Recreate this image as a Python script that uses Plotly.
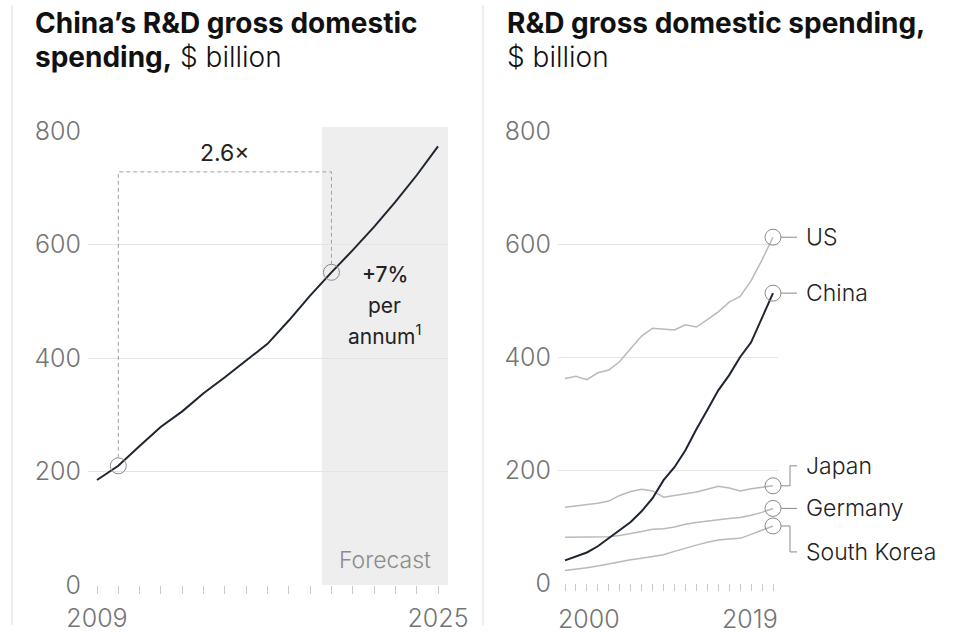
import plotly.graph_objects as go

W, H = 957, 634

# ---- Left panel: China's R&D spending, $ billion (2021-2025 forecast) ----
cn_years = list(range(2009, 2026))
cn_values = [185, 210, 245, 279, 306, 338, 366, 396, 425, 466, 510, 551,
             590, 631, 675, 722, 773]
forecast_start = 2019.55
base_year, mark_year = 2010, 2020
left_ticks = [0, 200, 400, 600, 800]

# ---- Right panel: R&D gross domestic spending by country, $ billion ----
years = list(range(2000, 2020))
us = [362, 366, 360, 372, 377, 392, 415, 437, 451, 449, 448, 457, 453, 466,
      480, 497, 507, 535, 572, 612]
china = [40, 47, 54, 65, 79, 93, 108, 127, 150, 182, 205, 235, 272, 306,
         341, 368, 400, 426, 470, 513]
japan = [134, 136, 139, 141, 145, 155, 162, 166, 163, 152, 155, 158, 161,
         166, 171, 168, 163, 167, 170, 172]
germany = [81, 81, 82, 82, 82, 84, 87, 91, 95, 96, 99, 104, 107, 110, 112,
           114, 116, 120, 125, 132]
korea = [22, 24, 27, 30, 34, 38, 41, 44, 47, 50, 56, 62, 67, 72, 76, 78, 79,
         86, 93, 101]
right_ticks = [0, 200, 400, 600, 800]

FONT = "Inter, Arial, sans-serif"
DARK = "#1e2430"
GREY_LINE = "#b9b9b9"
CIRCLE = "#8a8a8a"
TICK_GREY = "#747474"

# Plot-area geometry (pixels)
L_X0, L_X1, L_Y0, L_Y1 = 88, 448, 585, 131
R_X0, R_X1, R_Y0, R_Y1 = 558, 778, 583, 131
L_RANGE_X = [cn_years[0] - 9 / 21.31, cn_years[-1] + 10 / 21.31]
R_RANGE_X = [years[0] - 7 / 10.947, years[-1] + 5 / 10.947]
Y_RANGE = [0, 800]


def px(x):
    return x / W


def py(y):
    return 1 - y / H


# conversions for the right panel (data -> paper)
def r_xpaper(xv):
    frac = (xv - R_RANGE_X[0]) / (R_RANGE_X[1] - R_RANGE_X[0])
    return px(R_X0 + frac * (R_X1 - R_X0))


def r_ypaper(yv):
    frac = (yv - Y_RANGE[0]) / (Y_RANGE[1] - Y_RANGE[0])
    return py(R_Y0 - frac * (R_Y0 - R_Y1))


l_dy = (Y_RANGE[1] - Y_RANGE[0]) / (L_Y0 - L_Y1)

fig = go.Figure()

# Left panel line + highlighted points
fig.add_trace(go.Scatter(x=cn_years, y=cn_values, mode="lines",
                         line=dict(color=DARK, width=2),
                         xaxis="x", yaxis="y", hoverinfo="skip"))
v_base = cn_values[cn_years.index(base_year)]
v_mark = cn_values[cn_years.index(mark_year)]
fig.add_trace(go.Scatter(x=[base_year, mark_year], y=[v_base, v_mark],
                         mode="markers", cliponaxis=False,
                         marker=dict(symbol="circle-open", size=16,
                                     color=CIRCLE, line=dict(width=1)),
                         xaxis="x", yaxis="y", hoverinfo="skip"))

# Right panel lines
series = [("US", us, GREY_LINE), ("Japan", japan, GREY_LINE),
          ("Germany", germany, GREY_LINE), ("South Korea", korea, GREY_LINE),
          ("China", china, DARK)]
for name, vals, col in series:
    fig.add_trace(go.Scatter(x=years, y=vals, mode="lines",
                             line=dict(color=col, width=2 if col == DARK else 1.5),
                             xaxis="x2", yaxis="y2", hoverinfo="skip"))
fig.add_trace(go.Scatter(x=[years[-1]] * len(series),
                         y=[s[1][-1] for s in series],
                         mode="markers", cliponaxis=False,
                         marker=dict(symbol="circle-open", size=16,
                                     color=CIRCLE, line=dict(width=1)),
                         xaxis="x2", yaxis="y2", hoverinfo="skip"))

shapes = []
annotations = []

# Forecast band
shapes.append(dict(type="rect", xref="x", yref="paper",
                   x0=forecast_start, x1=L_RANGE_X[1],
                   y0=py(L_Y0), y1=py(127),
                   fillcolor="#eeeeee", line=dict(width=0), layer="below"))

# Dashed bracket between the two highlighted points
box_top = 728
r_val = 8 * l_dy
shapes.append(dict(type="path", xref="x", yref="y",
                   path=f"M {base_year},{v_base + r_val} L {base_year},{box_top} "
                        f"L {mark_year},{box_top} L {mark_year},{v_mark + r_val}",
                   line=dict(color="#a0a0a0", width=1, dash="4px,3px")))
annotations.append(dict(xref="x", yref="y", x=(base_year + mark_year) / 2,
                        y=box_top, yanchor="bottom", yshift=3, showarrow=False,
                        text="2.6×", font=dict(family=FONT, size=23, color="#222")))

growth_lines = [("+7%", 548, 500), ("per", 493, 400),
                ("annum<sup>1</sup>", 440, 400)]
for txt, yv, wt in growth_lines:
    annotations.append(dict(xref="x", yref="y", x=2022.5, y=yv,
                            showarrow=False, text=txt,
                            font=dict(family=FONT, size=21, color="#222",
                                      weight=wt)))
annotations.append(dict(xref="x", yref="y", x=2022.5, y=44, showarrow=False,
                        text="Forecast",
                        font=dict(family=FONT, size=23, color="#8c8c8c",
                                  weight=300)))

# Series labels with elbow connectors (offsets in pixels); drawn in paper
# space so they are not clipped by the plot area
label_offsets = {"US": 0, "China": 0, "Japan": 20, "Germany": 0,
                 "South Korea": -26}
for name, vals, col in series:
    dy = label_offsets[name]
    cx, cy = r_xpaper(years[-1]), r_ypaper(vals[-1])
    xa, xb, xc = cx + px(8), cx + px(17), cx + px(24)
    yb = cy + dy / H
    if dy == 0:
        path = f"M {xa},{cy} L {xc},{cy}"
    else:
        path = f"M {xa},{cy} L {xb},{cy} L {xb},{yb} L {xc},{yb}"
    shapes.append(dict(type="path", xref="paper", yref="paper", path=path,
                       line=dict(color=CIRCLE, width=1)))
    annotations.append(dict(xref="x2", yref="y2", x=years[-1], y=vals[-1],
                            xanchor="left", xshift=31, yshift=dy,
                            showarrow=False, text=name,
                            font=dict(family=FONT, size=23, color="#222",
                                      weight=300)))

tickfont = dict(family=FONT, size=25, color=TICK_GREY, weight=300)

# Year labels for the right panel
annotations.append(dict(xref="x2", yref="paper", x=years[0], y=py(619),
                        xanchor="left", yanchor="middle", xshift=-9,
                        showarrow=False, text=str(years[0]), font=tickfont))
annotations.append(dict(xref="x2", yref="paper", x=years[-1], y=py(619),
                        xanchor="right", yanchor="middle", xshift=7,
                        showarrow=False, text=str(years[-1]), font=tickfont))

# Titles
annotations += [
    dict(xref="paper", yref="paper", x=px(33), y=py(23), xanchor="left",
         yanchor="middle", showarrow=False,
         text="<b>China’s R&D gross domestic</b>",
         font=dict(family=FONT, size=28, color="#111")),
    dict(xref="paper", yref="paper", x=px(33), y=py(57), xanchor="left",
         yanchor="middle", showarrow=False,
         text="<b>spending,</b> <span style='font-weight:300'>$ billion</span>",
         font=dict(family=FONT, size=28, color="#111")),
    dict(xref="paper", yref="paper", x=px(505), y=py(23), xanchor="left",
         yanchor="middle", showarrow=False,
         text="<b>R&D gross domestic spending,</b>",
         font=dict(family=FONT, size=28, color="#111")),
    dict(xref="paper", yref="paper", x=px(505), y=py(57), xanchor="left",
         yanchor="middle", showarrow=False,
         text="$ billion",
         font=dict(family=FONT, size=28, color="#111", weight=300)),
]

# Panel separators
for xs in (12, 483):
    shapes.append(dict(type="line", xref="paper", yref="paper",
                       x0=px(xs), x1=px(xs), y0=py(5), y1=py(625),
                       line=dict(color="#dcdcdc", width=1)))

left_ticktext = [str(y) if y in (cn_years[0], cn_years[-1]) else ""
                 for y in cn_years]

fig.update_layout(
    width=W, height=H,
    autosize=False,
    margin=dict(l=0, r=0, t=0, b=0, pad=0, autoexpand=False),
    paper_bgcolor="white", plot_bgcolor="rgba(0,0,0,0)",
    showlegend=False,
    xaxis=dict(domain=[px(L_X0), px(L_X1)], range=L_RANGE_X,
               tickvals=cn_years, ticktext=left_ticktext,
               ticks="outside", ticklen=8, tickcolor="#c8c8c8",
               tickfont=tickfont, ticklabelstandoff=3, automargin=False,
               showgrid=False, zeroline=False, showline=False,
               anchor="y", fixedrange=True),
    yaxis=dict(domain=[py(L_Y0), py(L_Y1)], range=Y_RANGE,
               tickvals=left_ticks, showgrid=True, gridcolor="#e4e4e4",
               gridwidth=1, zeroline=False, showline=False, ticks="",
               tickfont=tickfont, ticklabelstandoff=6, automargin=False,
               anchor="x", fixedrange=True),
    xaxis2=dict(domain=[px(R_X0), px(R_X1)], range=R_RANGE_X,
                tickvals=years, ticktext=[""] * len(years),
                ticks="outside", ticklen=7, tickcolor="#c8c8c8",
                automargin=False,
                showgrid=False, zeroline=False, showline=False,
                anchor="y2", fixedrange=True),
    yaxis2=dict(domain=[py(R_Y0), py(R_Y1)], range=Y_RANGE,
                tickvals=right_ticks, showgrid=True, gridcolor="#e4e4e4",
                gridwidth=1, zeroline=False, showline=False, ticks="",
                tickfont=tickfont, ticklabelstandoff=6, automargin=False,
                anchor="x2", fixedrange=True),
    shapes=shapes,
    annotations=annotations,
)

fig.write_html("out.html")
